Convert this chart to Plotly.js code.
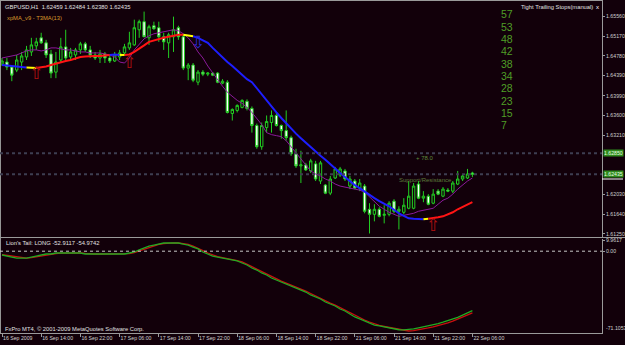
<!DOCTYPE html>
<html><head><meta charset="utf-8">
<script src="https://cdn.plot.ly/plotly-3.0.1.min.js"></script>
<style>html,body{margin:0;padding:0;background:#12000a;}#chart{width:625px;height:345px;}</style>
</head><body><div id="chart"></div>
<script>
// ---- session hours (H1 bars) ----
const sessions = [['16 Sep',6,23],['17 Sep',0,23],['18 Sep',0,23],['21 Sep',0,23],['22 Sep',0,6]];
const times = [];
sessions.forEach(([d,h0,h1])=>{for(let h=h0;h<=h1;h++){times.push(d+' '+String(h).padStart(2,'0')+':00');}});

const tickVals = ['16 Sep 06:00','16 Sep 14:00','16 Sep 22:00','17 Sep 06:00','17 Sep 14:00','17 Sep 22:00','18 Sep 06:00','18 Sep 14:00','18 Sep 22:00','21 Sep 06:00','21 Sep 14:00','21 Sep 22:00','22 Sep 06:00'];
const tickText = ['16 Sep 2009','16 Sep 14:00','16 Sep 22:00','17 Sep 06:00','17 Sep 14:00','17 Sep 22:00','18 Sep 06:00','18 Sep 14:00','18 Sep 22:00','21 Sep 06:00','21 Sep 14:00','21 Sep 22:00','22 Sep 06:00'];

const open = [1.6462,1.6466,1.6456,1.6450,1.6466,1.6476,1.6486,1.6498,1.6514,1.6504,
1.6482,1.6446,1.6470,1.6496,1.6476,1.6480,1.6490,1.6502,1.6490,1.6480,
1.6474,1.6482,1.6474,1.6468,1.6476,1.6484,1.6494,1.6500,1.6530,1.6546,
1.6514,1.6538,1.6534,1.6516,1.6504,1.6516,1.6534,1.6516,1.6454,1.6460,
1.6426,1.6446,1.6442,1.6444,1.6444,1.6424,1.6426,1.6364,1.6370,1.6376,
1.6388,1.6374,1.6340,1.6298,1.6336,1.6346,1.6360,1.6340,1.6330,1.6316,
1.6284,1.6260,1.6262,1.6250,1.6264,1.6230,1.6222,1.6206,1.6236,1.6242,
1.6250,1.6220,1.6230,1.6216,1.6220,1.6174,1.6164,1.6174,1.6162,1.6164,
1.6190,1.6170,1.6168,1.6176,1.6176,1.6224,1.6196,1.6200,1.6186,1.6210,
1.6200,1.6212,1.6210,1.6224,1.6234,1.6236,1.62459];
const high = [1.6474,1.6474,1.6458,1.6480,1.6486,1.6498,1.6514,1.6514,1.6524,1.6510,
1.6490,1.6486,1.6514,1.6530,1.6494,1.6494,1.6506,1.6506,1.6498,1.6486,
1.6490,1.6486,1.6478,1.6486,1.6490,1.6502,1.6526,1.6550,1.6550,1.6566,
1.6540,1.6546,1.6546,1.6524,1.6524,1.6556,1.6538,1.6520,1.6464,1.6464,
1.6450,1.6450,1.6446,1.6446,1.6446,1.6432,1.6430,1.6374,1.6382,1.6392,
1.6392,1.6378,1.6344,1.6346,1.6360,1.6370,1.6366,1.6342,1.6370,1.6320,
1.6294,1.6290,1.6266,1.6274,1.6270,1.6270,1.6224,1.6240,1.6258,1.6258,
1.6254,1.6240,1.6234,1.6234,1.6224,1.6186,1.6184,1.6178,1.6182,1.6190,
1.6194,1.6180,1.6196,1.6230,1.6226,1.6230,1.6210,1.6204,1.6214,1.6214,
1.6218,1.6216,1.6230,1.6250,1.6242,1.6254,1.62484];
const low = [1.6458,1.6450,1.6428,1.6446,1.6450,1.6470,1.6478,1.6490,1.6502,1.6474,
1.6434,1.6434,1.6466,1.6470,1.6470,1.6470,1.6482,1.6486,1.6474,1.6470,
1.6464,1.6464,1.6464,1.6466,1.6470,1.6478,1.6490,1.6498,1.6514,1.6516,
1.6500,1.6530,1.6506,1.6490,1.6474,1.6486,1.6510,1.6450,1.6430,1.6426,
1.6420,1.6438,1.6438,1.6438,1.6424,1.6422,1.6364,1.6350,1.6366,1.6374,
1.6370,1.6326,1.6294,1.6292,1.6326,1.6326,1.6338,1.6314,1.6310,1.6280,
1.6256,1.6226,1.6250,1.6246,1.6230,1.6224,1.6204,1.6202,1.6234,1.6238,
1.6230,1.6214,1.6214,1.6210,1.6166,1.6126,1.6150,1.6158,1.6146,1.6160,
1.6166,1.6134,1.6164,1.6174,1.6174,1.6194,1.6188,1.6182,1.6184,1.6202,
1.6198,1.6208,1.6206,1.6222,1.6230,1.6234,1.62380];
const close = [1.6468,1.6456,1.6440,1.6470,1.6478,1.6490,1.6500,1.6506,1.6504,1.6480,
1.6444,1.6466,1.6496,1.6474,1.6486,1.6490,1.6502,1.6490,1.6480,1.6474,
1.6482,1.6474,1.6468,1.6480,1.6484,1.6496,1.6504,1.6534,1.6546,1.6516,
1.6536,1.6532,1.6516,1.6506,1.6520,1.6530,1.6516,1.6454,1.6460,1.6430,
1.6446,1.6442,1.6444,1.6440,1.6426,1.6428,1.6366,1.6372,1.6380,1.6390,
1.6374,1.6340,1.6298,1.6340,1.6348,1.6360,1.6340,1.6330,1.6316,1.6284,
1.6260,1.6262,1.6252,1.6270,1.6234,1.6266,1.6206,1.6234,1.6254,1.6254,
1.6234,1.6234,1.6216,1.6226,1.6170,1.6164,1.6174,1.6160,1.6164,1.6186,
1.6170,1.6174,1.6182,1.6200,1.6220,1.6196,1.6200,1.6184,1.6204,1.6204,
1.6214,1.6210,1.6226,1.6234,1.6240,1.6244,1.62435];

// T3MA(13) values and colour runs (B=falling, R=rising, Y=turn)
const t3 = [1.6460,1.6459,1.6458,1.6457,1.6456,1.6455,1.6454,1.6454,1.6455,1.6457,
1.6460,1.6463,1.6466,1.6468,1.6470,1.6473,1.6476,1.6477,1.6478,1.6478,
1.6478,1.6479,1.6480,1.6481,1.6480,1.6480,1.6481,1.6486,1.6492,1.6499,
1.6506,1.6509,1.6512,1.6514,1.6516,1.6518,1.6520,1.6520,1.6519,1.6517,
1.6514,1.6509,1.6504,1.6494,1.6484,1.6474,1.6466,1.6458,1.6449,1.6440,
1.6432,1.6426,1.6414,1.6400,1.6388,1.6376,1.6366,1.6355,1.6344,1.6334,
1.6324,1.6315,1.6306,1.6296,1.6288,1.6280,1.6272,1.6264,1.6255,1.6246,
1.6238,1.6230,1.6222,1.6216,1.6209,1.6202,1.6196,1.6190,1.6185,1.6180,
1.6173,1.6166,1.6161,1.6156,1.6155,1.6154,1.6154,1.6155,1.6156,1.6158,
1.6160,1.6164,1.6168,1.6174,1.6179,1.6184,1.6188];
const t3Runs = [['B',6],['Y',2],['R',15],['B',2],['Y',1],['R',12],['Y',2],['B',47],['Y',1],['R',9]];

// xpMA_v9 (purple)
const xpma = [1.6474,1.6476,1.6478,1.6480,1.6484,1.6488,1.6490,1.6490,1.6488,1.6490,
1.6494,1.6494,1.6492,1.6490,1.6490,1.6488,1.6486,1.6486,1.6484,1.6484,
1.6484,1.6482,1.6480,1.6476,1.6466,1.6464,1.6474,1.6490,1.6502,1.6512,
1.6518,1.6522,1.6524,1.6526,1.6528,1.6530,1.6528,1.6522,1.6514,1.6502,
1.6486,1.6474,1.6458,1.6444,1.6430,1.6418,1.6406,1.6398,1.6390,1.6384,
1.6376,1.6366,1.6354,1.6342,1.6326,1.6322,1.6320,1.6318,1.6310,1.6298,
1.6284,1.6272,1.6262,1.6250,1.6244,1.6240,1.6234,1.6230,1.6224,1.6220,
1.6218,1.6216,1.6214,1.6212,1.6208,1.6198,1.6190,1.6180,1.6174,1.6168,
1.6164,1.6160,1.6162,1.6164,1.6166,1.6170,1.6172,1.6174,1.6176,1.6184,
1.6192,1.6196,1.6204,1.6214,1.6222,1.6230,1.6236];

// Lion's Tail oscillator
const lionGreen = [-3.4,-4.3,-5.2,-6.1,-6.1,-6.1,-5.2,-4.3,-3.4,-2.5,
-2.5,-1.6,-1.6,-1.6,-1.6,-1.6,-1.6,-2.5,-2.5,-2.5,
-2.5,-2.5,-2.5,-2.5,-2.5,-2.5,-1.6,-0.7,1.1,2.9,
4.6,5.5,6.4,7.3,7.3,7.3,7.3,6.4,5.5,3.7,
2.0,-0.7,-2.5,-4.3,-5.2,-6.1,-6.9,-7.8,-8.7,-10.5,
-12.3,-15.0,-16.8,-19.4,-21.2,-23.9,-25.7,-27.4,-29.2,-31.0,
-32.8,-34.6,-36.4,-39.0,-40.8,-42.6,-45.3,-47.0,-48.8,-51.5,
-53.3,-56.0,-58.6,-60.4,-62.2,-64.0,-65.8,-66.6,-67.5,-68.4,
-69.3,-70.0,-70.2,-70.0,-69.3,-68.4,-67.5,-66.6,-65.6,-64.5,
-63.2,-61.9,-60.8,-59.0,-57.0,-55.0,-52.9117];
const lionRed = [-3.0,-3.6,-4.5,-5.3,-5.9,-6.1,-5.8,-5.0,-4.1,-3.2,
-2.6,-2.2,-1.8,-1.6,-1.6,-1.6,-1.6,-2.0,-2.4,-2.5,
-2.5,-2.5,-2.5,-2.5,-2.5,-2.5,-2.2,-1.2,0.2,2.0,
3.7,5.0,6.0,6.8,7.3,7.4,7.3,6.9,6.0,4.6,
2.8,0.6,-1.6,-3.4,-4.8,-5.7,-6.5,-7.4,-8.3,-9.6,
-11.4,-13.7,-16.0,-18.2,-20.3,-22.6,-24.8,-26.6,-28.4,-30.1,
-31.9,-33.7,-35.5,-37.7,-40.0,-41.8,-44.0,-46.2,-48.0,-50.2,
-52.5,-54.7,-57.3,-59.5,-61.3,-63.1,-64.9,-66.2,-67.1,-68.0,
-68.9,-69.7,-70.5,-71.1053,-70.8,-70.2,-69.3,-68.4,-67.5,-66.4,
-65.2,-63.8,-62.3,-60.6,-58.8,-56.9,-54.9742];

// signal arrows
const upArrowBars = [7, 26, 88];
const upArrowPrice = [1.6440, 1.6463, 1.6139];
const downArrowBars = [40];
const downArrowPrice = [1.6503];

// levels
const levelPrices = [1.62850, 1.62435];
const trailingStops = [57,53,48,42,38,34,28,23,15,7];
const priceTicks = [1.6556,1.6517,1.6478,1.6439,1.6399,1.6360,1.6321,1.6203,1.6164,1.6125];

// ---- build ----
const BG = '#12000a';
const FONT = 'Liberation Sans, Arial, sans-serif';
const traces = [];
traces.push({type:'candlestick', x:times, open:open, high:high, low:low, close:close,
  xaxis:'x', yaxis:'y', whiskerwidth:0,
  increasing:{line:{color:'#22cc22',width:1}, fillcolor:BG},
  decreasing:{line:{color:'#22cc22',width:1}, fillcolor:'#ffffff'},
  hoverinfo:'skip'});
traces.push({type:'scatter', mode:'lines', x:times, y:xpma, xaxis:'x', yaxis:'y',
  line:{color:'#8a1a9a', width:1}, hoverinfo:'skip'});
const segColor = {B:'#1e1eff', R:'#ff1414', Y:'#ffff00'};
let pos = 0;
t3Runs.forEach(([c,n])=>{
  const s = Math.max(0,pos-1), e = pos+n;
  traces.push({type:'scatter', mode:'lines', x:times.slice(s,e), y:t3.slice(s,e), xaxis:'x', yaxis:'y',
    line:{color:segColor[c], width:2}, hoverinfo:'skip'});
  pos = e;
});
traces.push({type:'scatter', mode:'text', x:upArrowBars.map(i=>times[i]), y:upArrowPrice, text:upArrowBars.map(()=>'⇧'),
  textfont:{family:'DejaVu Sans', size:17, color:'#b01010'}, xaxis:'x', yaxis:'y', hoverinfo:'skip'});
traces.push({type:'scatter', mode:'text', x:downArrowBars.map(i=>times[i]), y:downArrowPrice, text:downArrowBars.map(()=>'⇩'),
  textfont:{family:'DejaVu Sans', size:17, color:'#2a2ad0'}, xaxis:'x', yaxis:'y', hoverinfo:'skip'});
traces.push({type:'scatter', mode:'lines', x:times, y:lionRed, xaxis:'x', yaxis:'y2', line:{color:'#c81010', width:1.3}, hoverinfo:'skip'});
traces.push({type:'scatter', mode:'lines', x:times, y:lionGreen, xaxis:'x', yaxis:'y2', line:{color:'#22aa22', width:1.3}, hoverinfo:'skip'});

const PW = 602, PH = 333;
const px = v => v/PW, py = v => 1 - v/PH;
const small = {family:FONT, size:5.8, color:'#e0e0e0'};

const ann = [
  {text:'GBPUSD,H1  1.62459 1.62484 1.62380 1.62435', x:px(3), y:py(7), font:small},
  {text:'xpMA_v9 - T3MA(13)', x:px(5), y:py(18), font:{family:FONT,size:5.8,color:'#d89a2a'}},
  {text:'Tight Trailing Stops(manual)', x:px(519), y:py(7), font:small},
  {text:'x', x:px(594), y:py(7), font:{family:FONT,size:6,color:'#ffffff'}},
  {text:'+ 78.0', x:px(414), y:py(158), font:{family:FONT,size:6,color:'#5e8a3a'}},
  {text:'Support/Resistance', x:px(397), y:py(180), font:{family:FONT,size:6,color:'#5e7a3a'}},
  {text:"Lion's Tail: LONG -52.9117 -54.9742", x:px(4), y:py(243), font:small},
  {text:'FxPro MT4, © 2001-2009 MetaQuotes Software Corp.', x:px(3), y:py(329), font:small},
  {text:'-71.1053', x:px(604), y:py(328), font:{family:FONT,size:5.2,color:'#d0d0d0'}},
];
trailingStops.forEach((v,k)=>ann.push({text:String(v), x:px(499), y:py(14.5+12.3*k), font:{family:FONT,size:10.5,color:'#4f9e26'}}));
levelPrices.forEach(p=>ann.push({text:p.toFixed(5), xref:'paper', yref:'y', x:px(603), y:p,
  font:{family:FONT,size:5.2,color:'#e8ffe0'}, bgcolor:'#2e8a1c', borderpad:0}));
ann.forEach(a=>{ if(!a.xref) a.xref='paper'; if(!a.yref) a.yref='paper'; a.xanchor='left'; a.yanchor='middle'; a.showarrow=false; });

const shapes = [
  {type:'line', xref:'paper', yref:'paper', x0:0, x1:625/PW, y0:py(237.5), y1:py(237.5), line:{color:'#9a9a9a', width:1}},
  {type:'line', xref:'paper', yref:'paper', x0:0.0008, x1:0.0008, y0:0, y1:1, line:{color:'#9a9a9a', width:1}},
  {type:'line', xref:'paper', yref:'paper', x0:0, x1:1, y0:py(0.5), y1:py(0.5), line:{color:'#9a9a9a', width:1}},
  {type:'line', xref:'paper', yref:'y2', x0:0, x1:1, y0:0, y1:0, line:{color:'#c8c8c8', width:1, dash:'3px,3px'}},
  {type:'line', xref:'paper', yref:'paper', x0:1, x1:623/PW, y0:py(179), y1:py(179), line:{color:'#ffffff', width:1}},
];
levelPrices.forEach(p=>shapes.push({type:'line', xref:'paper', yref:'y', x0:0, x1:1, y0:p, y1:p, line:{color:'#3e3e52', width:2, dash:'dot'}}));

const axCommon = {showgrid:false, zeroline:false, showline:true, linecolor:'#9a9a9a', linewidth:1,
  ticks:'outside', ticklen:2, tickcolor:'#9a9a9a', ticklabelstandoff:0,
  tickfont:{family:FONT,size:5.2,color:'#d0d0d0'}, automargin:false, fixedrange:true};

const layout = {
  width:625, height:345, paper_bgcolor:BG, plot_bgcolor:BG, showlegend:false,
  margin:{l:0, r:23, t:0, b:12, pad:0},
  xaxis:Object.assign({}, axCommon, {type:'category', domain:[0,1], anchor:'y2', range:[-0.408,122.45],
    tickmode:'array', tickvals:tickVals, ticktext:tickText, ticklabelposition:'outside right', tickangle:0,
    tickfont:{family:FONT,size:5.2,color:'#d0d0d0'}, ticklen:3, rangeslider:{visible:false}}),
  yaxis:Object.assign({}, axCommon, {domain:[1-237/PH,1], anchor:'x', side:'right', range:[1.6119,1.6589],
    tickmode:'array', tickvals:priceTicks, tickformat:'.5f'}),
  yaxis2:Object.assign({}, axCommon, {domain:[0,1-239/PH], anchor:'x', side:'right', range:[-72.9,10.87],
    tickmode:'array', tickvals:[9.9617,0], ticktext:['9.9617','0.00']}),
  annotations:ann, shapes:shapes
};
Plotly.newPlot('chart', traces, layout, {staticPlot:true, displayModeBar:false});
</script></body></html>
